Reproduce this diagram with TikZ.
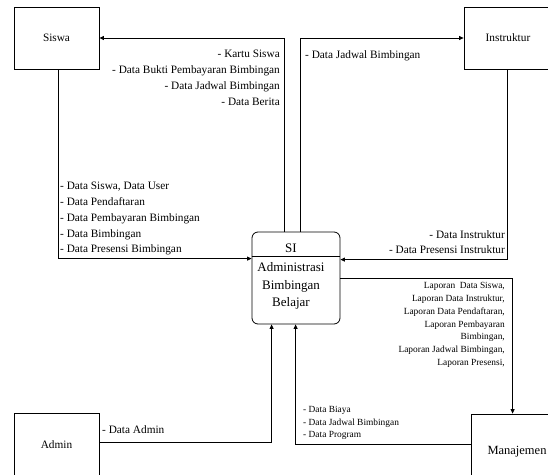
\documentclass[tikz,border=0pt]{standalone}
\usepackage{fontspec}
\setmainfont{Liberation Serif}
\usetikzlibrary{arrows.meta,calc}
\begin{document}
\begin{tikzpicture}[x=1pt,y=-1pt,
  ent/.style={draw,line width=0.8pt,inner sep=0pt,font=\fontsize{11.3}{13}\selectfont,text height=7.4pt,text depth=0pt},
  flow/.style={line width=0.8pt},
  arr/.style={flow,-{Triangle[length=4.5pt,width=4pt]}},
  lbl/.style={inner sep=0pt,font=\fontsize{11.3}{15.8}\selectfont},
  sml/.style={inner sep=0pt,font=\fontsize{9.4}{12.7}\selectfont}]
\useasboundingbox (0,0) rectangle (548,474);
\clip (0,0) rectangle (548,474);
% entities
\node[ent,minimum width=85pt,minimum height=62pt] (siswa) at (56.5,38) {Siswa};
\node[ent,minimum width=88pt,minimum height=62pt] (instr) at (508,38) {Instruktur};
\node[ent,minimum width=85pt,minimum height=64pt] (admin) at (56.5,445) {Admin};
\node[ent,minimum width=92pt,minimum height=72pt,font=\fontsize{12.5}{14}\selectfont,text height=8.2pt] (manaj) at (517,450) {Manajemen};
% process
\node[draw,rounded corners=6pt,line width=0.8pt,minimum width=88pt,minimum height=92pt,inner sep=0pt] (si) at (296,278) {};
\draw[flow] ($(si.north west)+(0,25)$) -- ($(si.north east)+(0,25)$);
\node[inner sep=0pt,font=\fontsize{13}{17.5}\selectfont] (sit) at (291,248) {SI};
\node[inner sep=0pt,font=\fontsize{13}{17.5}\selectfont,align=center,anchor=north] (sib) at (291,262.4) {Administrasi\\Bimbingan\\Belajar};
% flows
\draw[arr] ($(si.north west)+(33,0)$) |- (siswa.east);
\draw[arr] ($(si.north west)+(49,0)$) |- (instr.west);
\draw[arr] ($(siswa.south)+(1.5,0)$) |- ($(si.north west)+(0,27)$);
\draw[arr] ($(instr.south)+(-1,0)$) |- ($(si.north east)+(0,28)$);
\draw[arr] (si.east) -| ($(manaj.north west)+(42,0)$);
\draw[arr] ($(manaj.north west)+(0,31)$) -| ($(si.south west)+(44,0)$);
\draw[arr] ($(admin.north east)+(0,30)$) -| ($(si.south west)+(20,0)$);
% labels
\node[lbl,align=right,anchor=north east] (l1) at (280,50) {- Kartu Siswa\\- Data Bukti Pembayaran Bimbingan\\- Data Jadwal Bimbingan\\- Data Berita};
\node[lbl,align=left,anchor=north west] (l2) at (305,50) {- Data Jadwal Bimbingan};
\node[lbl,align=left,anchor=north west] (l3) at (60,182) {- Data Siswa, Data User\\- Data Pendaftaran\\- Data Pembayaran Bimbingan\\- Data Bimbingan\\- Data Presensi Bimbingan};
\node[lbl,align=right,anchor=north east,font=\fontsize{11.3}{15}\selectfont] (l4) at (505,230) {- Data Instruktur\\- Data Presensi Instruktur};
\node[sml,align=right,anchor=north east] (l5) at (505,282.5) {Laporan~ Data Siswa,\\Laporan Data Instruktur,\\Laporan Data Pendaftaran,\\Laporan Pembayaran\\Bimbingan,\\Laporan Jadwal Bimbingan,\\Laporan Presensi,};
\node[sml,align=left,anchor=north west,font=\fontsize{9.4}{12.5}\selectfont] (l6) at (303,406.5) {- Data Biaya\\- Data Jadwal Bimbingan\\- Data Program};
\node[lbl,align=left,anchor=north west] (l7) at (102,425) {- Data Admin};
\end{tikzpicture}
\end{document}
